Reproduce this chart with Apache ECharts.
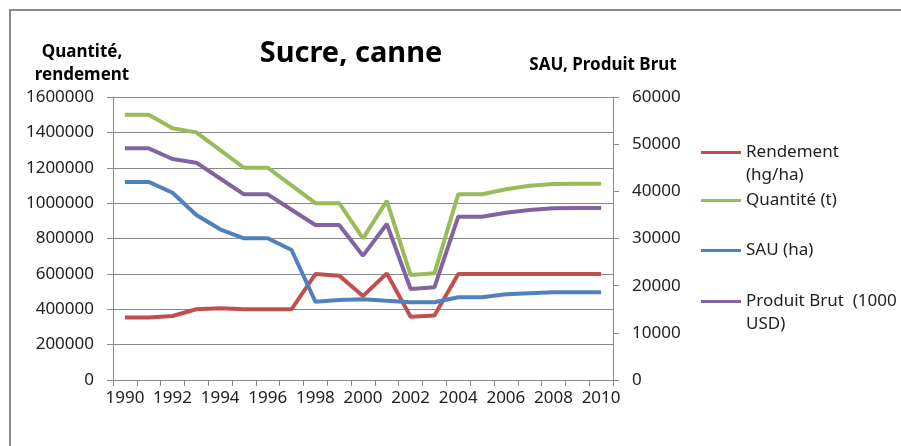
<!DOCTYPE html>
<html>
<head>
<meta charset="utf-8">
<script src="https://cdn.jsdelivr.net/npm/echarts@6/dist/echarts.min.js"></script>
<style>
  html, body { margin: 0; padding: 0; background: #fff; }
  #chart { width: 901px; height: 446px; }
</style>
</head>
<body>
<div id="chart"></div>
<script>
// années
const years = ['1990', '1991', '1992', '1993', '1994', '1995', '1996', '1997', '1998', '1999', '2000',
  '2001', '2002', '2003', '2004', '2005', '2006', '2007', '2008', '2009', '2010'];

// axe gauche
const rendement = [354000, 354000, 362000, 400000, 405000, 400000, 400000, 400000, 599000, 590000, 475000,
  603000, 358000, 364000, 599000, 599000, 599000, 599000, 599000, 599000, 599000];
const quantite = [1500000, 1500000, 1423000, 1400000, 1300000, 1200000, 1200000, 1100000, 1000000, 1000000, 801000,
  1013000, 593000, 603000, 1050000, 1050000, 1078000, 1098000, 1108000, 1110000, 1110000];

// axe droit
const sau = [42000, 42000, 39700, 35000, 31950, 30040, 30040, 27560, 16600, 16960, 17110,
  16810, 16470, 16470, 17530, 17530, 18170, 18380, 18590, 18590, 18590];
const produitBrut = [49120, 49120, 46850, 46080, 42720, 39370, 39370, 36100, 32860, 32860, 26360,
  33070, 19290, 19650, 34620, 34620, 35470, 36040, 36400, 36470, 36470];

const FONT = '"Noto Sans", sans-serif';
const GRID_COLOR = '#8a8a8a';

const chart = echarts.init(document.getElementById('chart'));

// une légende par série, le trait aligné sur la première ligne du texte
function legendAt(name, top, label) {
  return {
    data: [name],
    left: 701,
    top: top,
    orient: 'vertical',
    icon: 'rect',
    itemWidth: 40,
    itemHeight: 3,
    padding: 0,
    selectedMode: false,
    formatter: function () { return label; },
    textStyle: {
      fontFamily: FONT,
      fontSize: 17,
      color: '#222',
      lineHeight: 23
    }
  };
}

const option = {
  backgroundColor: '#fff',
  animation: false,
  graphic: [{
    type: 'rect',
    shape: { x: 10, y: 10, width: 900, height: 450 },
    style: { fill: 'none', stroke: '#8a8a8a', lineWidth: 2 },
    silent: true
  }],
  title: [{
    text: 'Sucre, canne',
    left: 351,
    top: 39,
    textAlign: 'center',
    padding: 0,
    textStyle: { fontFamily: FONT, fontSize: 29, fontWeight: 'bold', color: '#000' }
  }, {
    text: 'Quantité,\nrendement',
    left: 82,
    top: 41,
    textAlign: 'center',
    padding: 0,
    textStyle: { fontFamily: FONT, fontSize: 17, fontWeight: 'bold', color: '#000', lineHeight: 23 }
  }, {
    text: 'SAU, Produit Brut',
    left: 603,
    top: 57,
    textAlign: 'center',
    padding: 0,
    textStyle: { fontFamily: FONT, fontSize: 17, fontWeight: 'bold', color: '#000' }
  }],
  legend: [
    legendAt('Rendement (hg/ha)', 118, ' \nRendement\n(hg/ha)'),
    legendAt('Quantité (t)', 189, 'Quantité (t)'),
    legendAt('SAU (ha)', 239, 'SAU (ha)'),
    legendAt('Produit Brut (1000 USD)', 267, ' \nProduit Brut  (1000\nUSD)')
  ],
  grid: { left: 113, right: 288, top: 97, bottom: 66 },
  xAxis: {
    type: 'category',
    data: years,
    boundaryGap: true,
    axisLine: { lineStyle: { color: GRID_COLOR, width: 1 } },
    axisTick: { show: true, interval: 0, length: 6, lineStyle: { color: GRID_COLOR } },
    axisLabel: { interval: 1, margin: 10, fontFamily: FONT, fontSize: 17, color: '#222' },
    splitLine: { show: false }
  },
  yAxis: [{
    type: 'value',
    min: 0,
    max: 1600000,
    interval: 200000,
    axisLine: { show: true, lineStyle: { color: GRID_COLOR, width: 1 } },
    axisTick: { show: true, length: 6, lineStyle: { color: GRID_COLOR } },
    axisLabel: { margin: 19, fontFamily: FONT, fontSize: 17, color: '#222', formatter: v => String(v) },
    splitLine: { show: true, lineStyle: { color: GRID_COLOR, width: 1 } }
  }, {
    type: 'value',
    min: 0,
    max: 60000,
    interval: 10000,
    position: 'right',
    axisLine: { show: true, lineStyle: { color: GRID_COLOR, width: 1 } },
    axisTick: { show: true, length: 6, lineStyle: { color: GRID_COLOR } },
    axisLabel: { margin: 19, fontFamily: FONT, fontSize: 17, color: '#222', formatter: v => String(v) },
    splitLine: { show: false }
  }],
  series: [{
    name: 'Rendement (hg/ha)',
    type: 'line',
    yAxisIndex: 0,
    data: rendement,
    symbol: 'none',
    color: '#c0504d',
    lineStyle: { width: 4, color: '#c0504d' }
  }, {
    name: 'Quantité (t)',
    type: 'line',
    yAxisIndex: 0,
    data: quantite,
    symbol: 'none',
    color: '#9bbb59',
    lineStyle: { width: 4, color: '#9bbb59' }
  }, {
    name: 'SAU (ha)',
    type: 'line',
    yAxisIndex: 1,
    data: sau,
    symbol: 'none',
    color: '#4f81bd',
    lineStyle: { width: 4, color: '#4f81bd' }
  }, {
    name: 'Produit Brut (1000 USD)',
    type: 'line',
    yAxisIndex: 1,
    data: produitBrut,
    symbol: 'none',
    color: '#8064a2',
    lineStyle: { width: 4, color: '#8064a2' }
  }]
};

chart.setOption(option);
</script>
</body>
</html>
